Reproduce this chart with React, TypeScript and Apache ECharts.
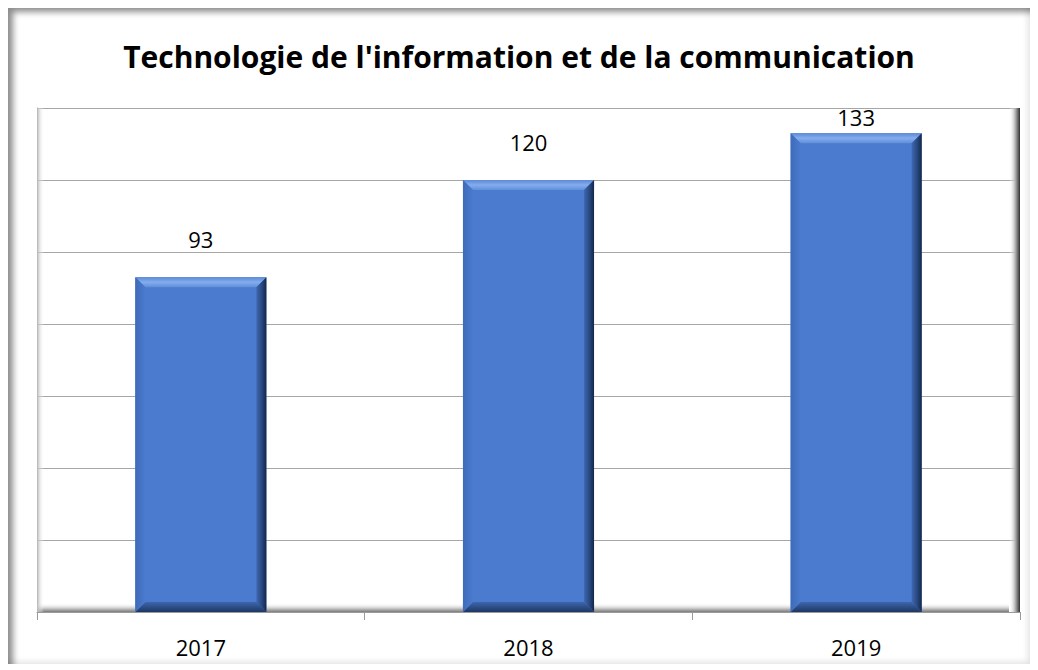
import React, { useEffect, useRef } from "react";
import * as echarts from "echarts";

const title = "Technologie de l'information et de la communication";
const categories = ["2017", "2018", "2019"];
const values = [93, 120, 133];
const yMax = 140;
const yInterval = 20;

export default function App() {
  const ref = useRef<HTMLDivElement>(null);
  useEffect(() => {
    if (!ref.current) return;
    const chart = echarts.init(ref.current, undefined, { renderer: "svg" });
    const gridTop = 108;
    const gridBottom = 58;
    const plotH = 670 - gridTop - gridBottom;
    const pxPerUnit = plotH / yMax;
    const font = "'Open Sans', Lato, sans-serif";
    chart.setOption({
      animation: false,
      backgroundColor: "transparent",
      title: {
        text: title,
        left: "center",
        top: 36,
        textStyle: { fontFamily: font, fontSize: 30, fontWeight: "bold", color: "#000" },
      },
      grid: { left: 37, right: 18, top: gridTop, bottom: gridBottom },
      xAxis: {
        type: "category",
        data: categories,
        axisLine: { lineStyle: { color: "#9a9a9a", width: 1 } },
        axisTick: { show: true, length: 8, lineStyle: { color: "#9a9a9a" } },
        axisLabel: { fontFamily: font, fontSize: 22, color: "#000", margin: 24 },
      },
      yAxis: {
        type: "value",
        min: 0,
        max: yMax,
        interval: yInterval,
        axisLine: { show: true, lineStyle: { color: "#9a9a9a" } },
        axisTick: { show: false },
        axisLabel: { show: false },
        splitLine: { lineStyle: { color: "#a6a6a6", width: 1 } },
      },
      graphic: [
        {
          type: "rect",
          shape: { x: 1009, y: 108, width: 11, height: 504 },
          style: {
            fill: new echarts.graphic.LinearGradient(0, 0, 1, 0, [
              { offset: 0, color: "rgba(255,255,255,0)" },
              { offset: 0.6, color: "#a8a8a8" },
              { offset: 1, color: "#303030" },
            ]),
          },
          z: 1,
        },
        {
          type: "rect",
          shape: { x: 37, y: 603, width: 972, height: 9 },
          style: {
            fill: new echarts.graphic.LinearGradient(0, 0, 0, 1, [
              { offset: 0, color: "rgba(255,255,255,0)" },
              { offset: 0.6, color: "#c8c8c8" },
              { offset: 1, color: "#7a7a7a" },
            ]),
          },
          z: 1,
        },
        {
          type: "rect",
          shape: { x: 37, y: 108, width: 7, height: 504 },
          style: {
            fill: new echarts.graphic.LinearGradient(0, 0, 1, 0, [
              { offset: 0, color: "#b8b8b8" },
              { offset: 1, color: "rgba(255,255,255,0)" },
            ]),
          },
          z: 1,
        },
      ],
      series: [
        {
          type: "bar",
          data: values.map((v) => {
            const room = (yMax - v) * pxPerUnit;
            return {
              value: v,
              label: { distance: room > 45 ? 27 : Math.max(2, room - 20) },
            };
          }),
          barWidth: "40%",
          itemStyle: { color: "#4a7bcf" },
          z: 3,
          label: {
            show: true,
            position: "top",
            fontFamily: font,
            fontSize: 22,
            color: "#000",
          },
        },
        {
          type: "custom",
          data: values.map((v, i) => [i, v]),
          z: 4,
          silent: true,
          renderItem: (params: any, api: any) => {
            const idx = api.value(0);
            const v = api.value(1);
            const top = api.coord([idx, v]);
            const bot = api.coord([idx, 0]);
            const w = api.size([1, 0])[0] * 0.4;
            const x0 = top[0] - w / 2;
            const x1 = top[0] + w / 2;
            const y0 = top[1];
            const y1 = bot[1];
            const b = 10;
            return {
              type: "group",
              children: [
                {
                  type: "polygon",
                  shape: { points: [[x0, y0], [x1, y0], [x1 - b, y0 + b], [x0 + b, y0 + b]] },
                  style: {
                    fill: new echarts.graphic.LinearGradient(0, 0, 0, 1, [
                      { offset: 0, color: "#5a8ad9" },
                      { offset: 0.5, color: "#86acec" },
                      { offset: 1, color: "#5f8fdc" },
                    ]),
                  },
                },
                {
                  type: "polygon",
                  shape: { points: [[x1, y0], [x1, y1], [x1 - b, y1 - b], [x1 - b, y0 + b]] },
                  style: {
                    fill: new echarts.graphic.LinearGradient(0, 0, 1, 0, [
                      { offset: 0, color: "#3e68b0" },
                      { offset: 0.6, color: "#27457c" },
                      { offset: 1, color: "#142746" },
                    ]),
                  },
                },
                {
                  type: "polygon",
                  shape: { points: [[x0, y1], [x1, y1], [x1 - b, y1 - b], [x0 + b, y1 - b]] },
                  style: {
                    fill: new echarts.graphic.LinearGradient(0, 0, 0, 1, [
                      { offset: 0, color: "#3d66ad" },
                      { offset: 1, color: "#1e3763" },
                    ]),
                  },
                },
                {
                  type: "polygon",
                  shape: { points: [[x0, y0], [x0, y1], [x0 + b, y1 - b], [x0 + b, y0 + b]] },
                  style: {
                    fill: new echarts.graphic.LinearGradient(0, 0, 1, 0, [
                      { offset: 0, color: "#3f6bb8" },
                      { offset: 1, color: "#4a7bcf" },
                    ]),
                  },
                },
              ],
            };
          },
        },
      ],
    });
    return () => chart.dispose();
  }, []);
  return (
    <div style={{ position: "absolute", left: 0, top: 0, width: 1038, height: 670 }}>
      <div
        style={{
          position: "absolute",
          left: 8,
          top: 8,
          width: 1022,
          height: 656,
          background: "#fff",
          boxShadow:
            "inset 7px 6px 6px -2px rgba(0,0,0,0.45), inset -4px -4px 6px -2px rgba(0,0,0,0.12)",
        }}
      />
      <div ref={ref} style={{ position: "absolute", left: 0, top: 0, width: 1038, height: 670 }} />
    </div>
  );
}
